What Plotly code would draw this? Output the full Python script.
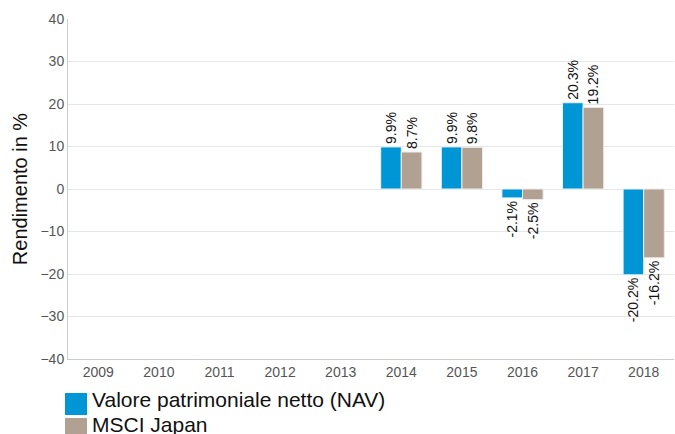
import plotly.graph_objects as go

years = ["2009", "2010", "2011", "2012", "2013", "2014", "2015", "2016", "2017", "2018"]
nav = [None, None, None, None, None, 9.9, 9.9, -2.1, 20.3, -20.2]
msci = [None, None, None, None, None, 8.7, 9.8, -2.5, 19.2, -16.2]

series_names = ["Valore patrimoniale netto (NAV)", "MSCI Japan"]
series_colors = ["#0096d6", "#b0a193"]
edge_colors = ["#e8f4fb", "#efebe7"]

FONT = "Liberation Sans, Arial, sans-serif"

# plot area geometry in pixels (used to place the legend below the axes)
W, H = 675, 434
ML, MR, MT, MB = 68, 1, 19, 75
PW, PH = W - ML - MR, H - MT - MB


def px_x(x):
    return (x - ML) / PW


def px_y(y):
    return (H - MB - y) / PH


def labels(vals):
    return ["" if v is None else f"{v:.1f}%" for v in vals]


fig = go.Figure()
for vals, name, col, edge in zip([nav, msci], series_names, series_colors, edge_colors):
    fig.add_trace(go.Bar(
        x=years, y=vals, name=name,
        marker=dict(color=col, line=dict(color=edge, width=1)),
        text=labels(vals), textposition="outside", textangle=-90,
        constraintext="none",
        textfont=dict(size=14, color="#111111", family=FONT),
        cliponaxis=False, showlegend=False,
    ))

# legend drawn as swatches + text under the x axis
shapes, annotations = [], []
for i, (name, col) in enumerate(zip(series_names, series_colors)):
    top = 393 + i * 25
    shapes.append(dict(
        type="rect", xref="paper", yref="paper",
        x0=px_x(65), x1=px_x(87), y0=px_y(top), y1=px_y(top + 22),
        fillcolor=col, line=dict(width=0),
    ))
    annotations.append(dict(
        xref="paper", yref="paper", x=px_x(90), y=px_y(top + 6),
        xanchor="left", yanchor="middle", text=name, showarrow=False,
        font=dict(size=21, color="#111111", family=FONT),
    ))

fig.update_layout(
    width=W, height=H,
    margin=dict(l=ML, r=MR, t=MT, b=MB, autoexpand=False),
    paper_bgcolor="white", plot_bgcolor="white",
    barmode="group", bargap=0.32, bargroupgap=0,
    font=dict(family=FONT, color="#555555", size=14),
    showlegend=False,
    shapes=shapes, annotations=annotations,
)
fig.update_xaxes(
    type="category", showgrid=False, showline=True,
    linecolor="#cccccc", linewidth=1, ticks="",
    tickfont=dict(size=14, color="#555555"),
)
fig.update_yaxes(
    range=[-40, 40], dtick=10, showgrid=True, gridcolor="#e6e6e6",
    zeroline=True, zerolinecolor="#e6e6e6", zerolinewidth=1,
    showline=True, linecolor="#cccccc", linewidth=1,
    tickfont=dict(size=14, color="#555555"),
    title=dict(text="Rendimento in %", font=dict(size=20, color="#111111"), standoff=7),
)

fig.write_html("out.html")
